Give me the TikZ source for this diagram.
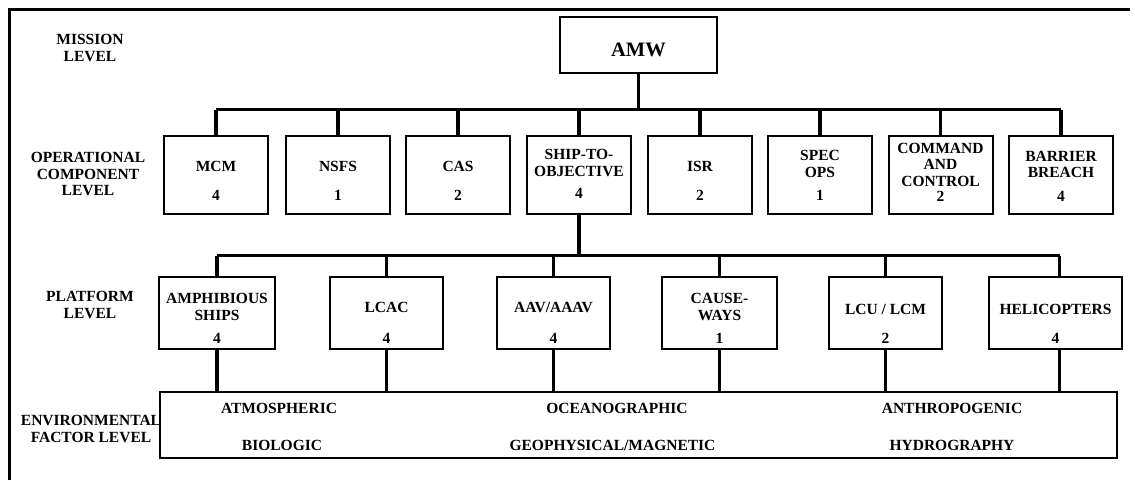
\documentclass[tikz,border=0pt]{standalone}
\usepackage{fontspec}
\setmainfont{Liberation Serif}
\begin{document}
\begin{tikzpicture}[x=1pt,y=-1pt,
  box/.style={draw, line width=2pt, inner sep=0pt},
  opbox/.style={box, minimum width=104pt, minimum height=78pt},
  plbox/.style={box, minimum width=114pt, minimum height=72pt},
  txt/.style={inner sep=0pt, align=center, font=\fontsize{15.5}{16.5}\selectfont\bfseries},
  conn/.style={line width=3.8pt},
  frame/.style={line width=3pt}]
\useasboundingbox (0,0) rectangle (1135,480);
% outer frame (top and left edges)
\draw[frame] (9,480) -- (9,9) -- (1130,9);

% level labels
\node[txt] (lv1) at (90,48) {MISSION\\LEVEL};
\node[txt] (lv2) at (88,174) {OPERATIONAL\\COMPONENT\\LEVEL};
\node[txt] (lv3) at (90,305) {PLATFORM\\LEVEL};
\node[txt] (lv4) at (91,429) {ENVIRONMENTAL\\FACTOR LEVEL};

% mission
\node[box, minimum width=157pt, minimum height=56pt] (amw) at (638.5,45) {};
\node[txt, font=\fontsize{20.5}{22}\selectfont\bfseries] (amwt) at (638.5,50) {AMW};

% operational boxes
\node[opbox] (mcm) at (216,175) {};
\node[opbox] (nsfs) at (338,175) {};
\node[opbox] (cas) at (458,175) {};
\node[opbox] (sto) at (579,175) {};
\node[opbox] (isr) at (700,175) {};
\node[opbox] (spec) at (820,175) {};
\node[opbox] (cc) at (940.5,175) {};
\node[opbox] (bb) at (1061,175) {};

\node[txt] (mcmt) at (216,166) {MCM};
\node[txt] (mcmn) at (216,195) {4};
\node[txt] (nsfst) at (338,166) {NSFS};
\node[txt] (nsfsn) at (338,195) {1};
\node[txt] (cast) at (458,166) {CAS};
\node[txt] (casn) at (458,195) {2};
\node[txt] (stot) at (579,163) {SHIP-TO-\\OBJECTIVE};
\node[txt] (ston) at (579,193.5) {4};
\node[txt] (isrt) at (700,166) {ISR};
\node[txt] (isrn) at (700,195) {2};
\node[txt] (spect) at (820,164) {SPEC\\OPS};
\node[txt] (specn) at (820,195) {1};
\node[txt] (cct) at (940.5,164.5) {COMMAND\\AND\\CONTROL};
\node[txt] (ccn) at (940.5,196) {2};
\node[txt] (bbt) at (1061,164.5) {BARRIER\\BREACH};
\node[txt] (bbn) at (1061,196) {4};

% platform boxes
\node[plbox, minimum width=116pt] (amph) at (217,313) {};
\node[plbox, minimum width=113pt] (lcac) at (386.5,313) {};
\node[plbox, minimum width=113pt] (aav) at (553.5,313) {};
\node[plbox, minimum width=115pt] (cw) at (719.5,313) {};
\node[plbox, minimum width=113pt] (lcu) at (885.5,313) {};
\node[plbox, minimum width=133pt] (heli) at (1055.5,313) {};

\node[txt] (ampht) at (217,307) {AMPHIBIOUS\\SHIPS};
\node[txt] (amphn) at (217,338) {4};
\node[txt] (lcact) at (386.5,307.5) {LCAC};
\node[txt] (lcacn) at (386.5,338) {4};
\node[txt] (aavt) at (553.5,307.5) {AAV/AAAV};
\node[txt] (aavn) at (553.5,338) {4};
\node[txt] (cwt) at (719.5,307) {CAUSE-\\WAYS};
\node[txt] (cwn) at (719.5,338) {1};
\node[txt] (lcut) at (885.5,309) {LCU / LCM};
\node[txt] (lcun) at (885.5,338) {2};
\node[txt] (helit) at (1055.5,309) {HELICOPTERS};
\node[txt] (helin) at (1055.5,338) {4};

% environment
\node[box, minimum width=957pt, minimum height=66pt] (env) at (638.5,425) {};
\node[txt] (e1) at (279,408) {ATMOSPHERIC};
\node[txt] (e2) at (617,408) {OCEANOGRAPHIC};
\node[txt] (e3) at (952,408) {ANTHROPOGENIC};
\node[txt] (e4) at (282,445) {BIOLOGIC};
\node[txt] (e5) at (612.5,445) {GEOPHYSICAL/MAGNETIC};
\node[txt] (e6) at (952,445) {HYDROGRAPHY};

% bus coordinates
\coordinate (obus) at (638.5,109.5);
\coordinate (pbus) at (579,255.5);

% mission -> operational
\draw[conn] (amw.south) -- (obus);
\draw[conn] (mcm.north |- obus) -- (bb.north |- obus);
\foreach \n in {mcm,nsfs,cas,sto,isr,spec,cc,bb}
  \draw[conn] (\n.north |- obus) -- (\n.north);

% ship-to-objective -> platforms
\draw[conn] (sto.south) -- (pbus);
\draw[conn] (amph.north |- pbus) -- ([xshift=4pt]heli.north |- pbus);
\foreach \n in {amph,lcac,aav,cw,lcu}
  \draw[conn] (\n.north |- pbus) -- (\n.north);
\draw[conn] ([xshift=4pt]heli.north |- pbus) -- ([xshift=4pt]heli.north);

% platforms -> environment
\foreach \n in {amph,lcac,aav,cw,lcu}
  \draw[conn] (\n.south) -- (\n.south |- env.north);
\draw[conn] ([xshift=4pt]heli.south) -- ([xshift=4pt]heli.south |- env.north);
\end{tikzpicture}
\end{document}
